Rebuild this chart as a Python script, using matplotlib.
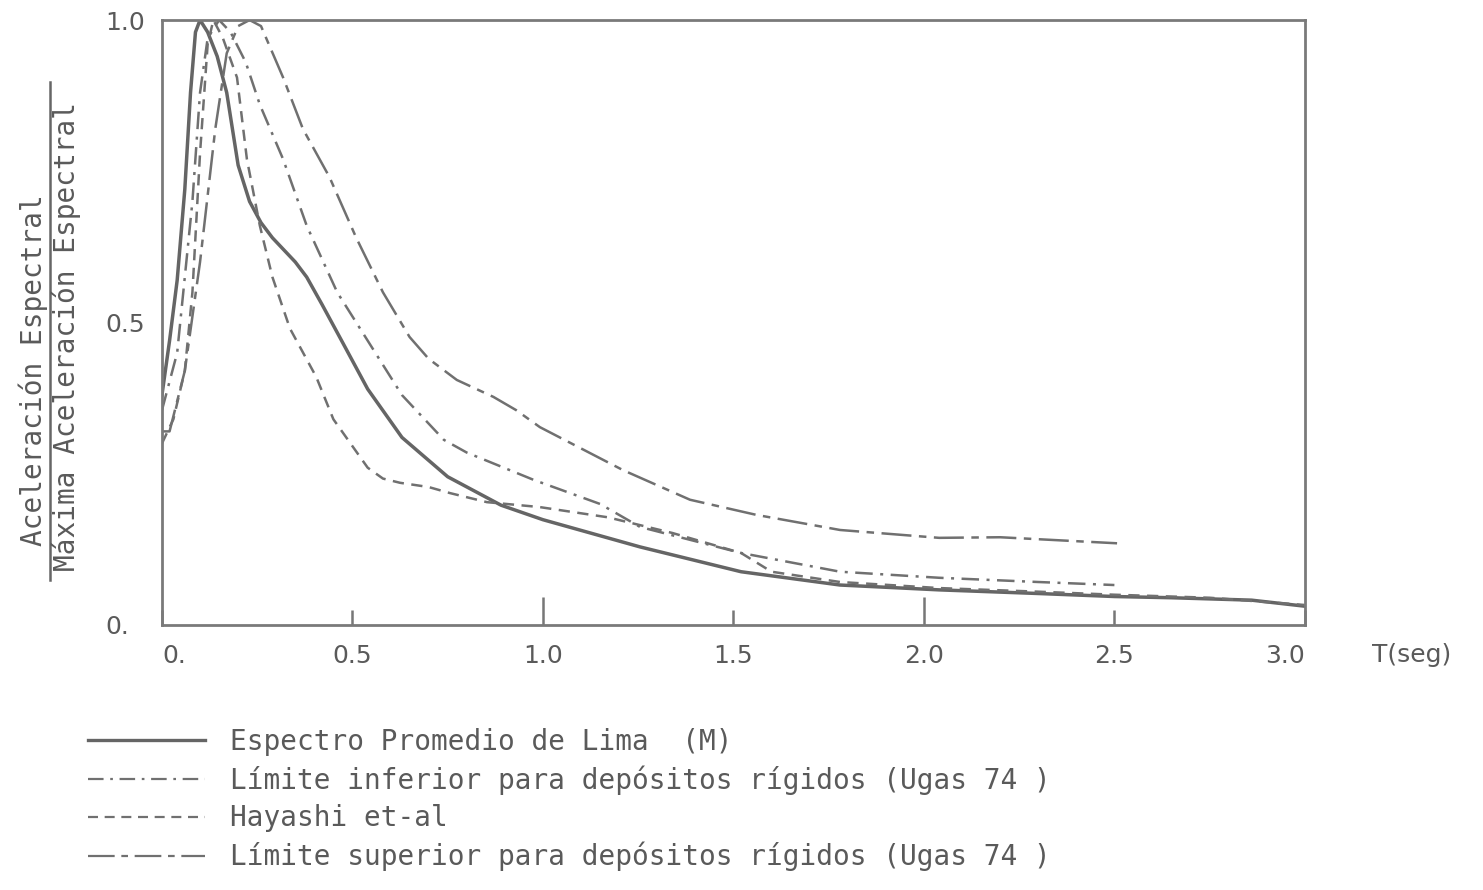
import numpy as np
import matplotlib.pyplot as plt
from matplotlib.lines import Line2D

# espectro promedio de Lima (M)
t_prom = [0.0, 0.02, 0.04, 0.06, 0.075, 0.088, 0.10, 0.12, 0.145, 0.17, 0.20, 0.23, 0.26,
          0.29, 0.32, 0.35, 0.38, 0.42, 0.475, 0.54, 0.63, 0.75, 0.89, 1.0, 1.255, 1.52,
          1.78, 2.04, 2.3, 2.5, 2.65, 2.86, 3.0]
v_prom = [0.38, 0.47, 0.57, 0.72, 0.88, 0.98, 1.0, 0.98, 0.94, 0.88, 0.76, 0.70, 0.665,
          0.64, 0.62, 0.60, 0.575, 0.53, 0.466, 0.39, 0.31, 0.245, 0.198, 0.174, 0.129,
          0.088, 0.066, 0.058, 0.052, 0.047, 0.045, 0.041, 0.031]

# limite inferior (Ugas 74)
t_inf = [0.0, 0.04, 0.08, 0.10, 0.12, 0.15, 0.18, 0.22, 0.257, 0.318, 0.38, 0.46, 0.54,
         0.63, 0.74, 0.80, 0.975, 1.15, 1.255, 1.52, 1.78, 2.04, 2.3, 2.5]
v_inf = [0.355, 0.45, 0.70, 0.88, 0.97, 1.0, 0.98, 0.93, 0.86, 0.77, 0.66, 0.55, 0.47,
         0.38, 0.306, 0.285, 0.24, 0.20, 0.162, 0.119, 0.088, 0.078, 0.071, 0.066]

# Hayashi et-al
t_hay = [0.0, 0.03, 0.06, 0.08, 0.10, 0.12, 0.135, 0.16, 0.197, 0.223, 0.257, 0.29, 0.336,
         0.405, 0.45, 0.54, 0.58, 0.625, 0.70, 0.756, 0.853, 0.99, 1.17, 1.34, 1.52, 1.6,
         1.78, 2.04, 2.3, 2.5, 2.75, 3.0]
v_hay = [0.30, 0.34, 0.42, 0.55, 0.78, 0.96, 1.0, 0.97, 0.905, 0.77, 0.66, 0.575, 0.49,
         0.41, 0.34, 0.26, 0.242, 0.235, 0.228, 0.218, 0.203, 0.195, 0.178, 0.152, 0.119,
         0.088, 0.071, 0.061, 0.055, 0.05, 0.045, 0.033]

# limite superior (Ugas 74)
t_sup = [0.0, 0.02, 0.06, 0.10, 0.14, 0.17, 0.20, 0.23, 0.26, 0.318, 0.37, 0.44, 0.51,
         0.58, 0.65, 0.70, 0.774, 0.87, 0.93, 0.992, 1.21, 1.386, 1.56, 1.78, 2.04, 2.2, 2.507]
v_sup = [0.32, 0.32, 0.42, 0.60, 0.82, 0.945, 0.99, 1.0, 0.99, 0.905, 0.82, 0.74, 0.64,
         0.55, 0.476, 0.44, 0.405, 0.377, 0.355, 0.327, 0.256, 0.207, 0.182, 0.157, 0.144,
         0.145, 0.135]

labels = ['Espectro Promedio de Lima  (M)',
          'Límite inferior para depósitos rígidos (Ugas 74 )',
          'Hayashi et-al',
          'Límite superior para depósitos rígidos (Ugas 74 )']

xticks = [0.0, 0.5, 1.0, 1.5, 2.0, 2.5, 3.0]
xtick_labels = ['0.', '0.5', '1.0', '1.5', '2.0', '2.5', '3.0']
yticks = [0.0, 0.5, 1.0]
ytick_labels = ['0.', '0.5', '1.0']

col = '#707070'
tcol = '#5a5a5a'
plt.rcParams['font.family'] = ['DejaVu Sans']
mono = 'DejaVu Sans Mono'  # rotulado con plantilla, letras espaciadas

fig = plt.figure(figsize=(14.83, 8.9), dpi=100)
ax = fig.add_axes([0.1092, 0.2978, 0.7707, 0.6797])

ax.plot(t_prom, v_prom, color='#656565', lw=2.5, ls='-', solid_joinstyle='round')
ax.plot(t_inf, v_inf, color=col, lw=1.8, ls=(0, (7, 3, 1.2, 3)))
ax.plot(t_hay, v_hay, color=col, lw=1.8, ls=(0, (4.5, 3)))
ax.plot(t_sup, v_sup, color=col, lw=1.8, ls=(0, (12, 3, 3, 3)))

ax.set_xlim(0, 3.0)
ax.set_ylim(0, 1.0)
for s in ax.spines.values():
    s.set_color('#7a7a7a')
    s.set_linewidth(2)

ax.set_xticks(xticks)
ax.set_xticklabels(xtick_labels)
ax.tick_params(axis='x', direction='in', length=11, width=1.8, color='#777777', pad=14,
               labelsize=18, labelcolor=tcol)
for tk, x in zip(ax.xaxis.get_major_ticks(), xticks):
    if x in (1.0, 2.0):
        tk.tick1line.set_markersize(20)
xl = ax.get_xticklabels()
xl[0].set_horizontalalignment('left')
xl[-1].set_horizontalalignment('right')

ax.set_yticks(yticks)
ax.set_yticklabels(ytick_labels)
ax.tick_params(axis='y', length=0, pad=41, labelsize=18, labelcolor=tcol)
for t in ax.get_yticklabels():
    t.set_horizontalalignment('left')

fig.text(0.952, 0.264, 'T(seg)', fontsize=18, color=tcol, ha='center', va='center')

# eje y como fraccion
fig.text(0.0225, 0.584, 'Aceleración Espectral', rotation=90, fontsize=20, color=tcol,
         ha='center', va='center', family=mono)
fig.text(0.045, 0.622, 'Máxima Aceleración Espectral', rotation=90, fontsize=20,
         color=tcol, ha='center', va='center', family=mono)
fig.add_artist(Line2D([0.0335, 0.0335], [0.348, 0.908], color='#666666', lw=1.8))

handles = [Line2D([], [], color='#656565', lw=2.4),
           Line2D([], [], color=col, lw=1.6, ls=(0, (7, 3, 1.2, 3))),
           Line2D([], [], color=col, lw=1.6, ls=(0, (4.5, 3))),
           Line2D([], [], color=col, lw=1.6, ls=(0, (12, 3, 3, 3)))]
leg = fig.legend(handles, labels, loc='upper left', bbox_to_anchor=(0.0593, 0.182),
                 frameon=False, prop={'family': mono, 'size': 20}, handlelength=4.2,
                 handletextpad=0.9, labelspacing=0.34, borderpad=0, borderaxespad=0)
for t in leg.get_texts():
    t.set_color(tcol)

fig.savefig('out.png', dpi=100)
